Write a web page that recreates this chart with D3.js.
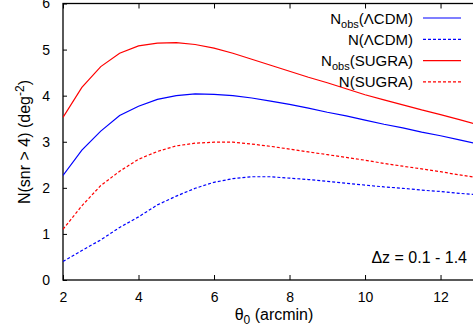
<!DOCTYPE html>
<html>
<head>
<meta charset="utf-8">
<script src="https://cdn.jsdelivr.net/npm/d3@7"></script>
<style>
  html, body { margin: 0; padding: 0; background: #fff; }
  svg { display: block; font-family: "Liberation Sans", Arial, sans-serif; }
</style>
</head>
<body>
<div id="chart"></div>
<script>
// theta_0 samples (arcmin)
const theta = [2, 2.5, 3, 3.5, 4, 4.5, 5, 5.5, 6, 6.5, 7, 7.5, 8, 8.5, 9, 9.5, 10, 10.5, 11, 11.5, 12, 12.5, 13];

const nObsLcdm = [2.27, 2.82, 3.23, 3.57, 3.77, 3.92, 4.00, 4.04, 4.03, 4.00, 3.95, 3.88, 3.81, 3.73, 3.64, 3.56, 3.47, 3.38, 3.30, 3.21, 3.13, 3.04, 2.95];
const nLcdm    = [0.40, 0.64, 0.87, 1.14, 1.37, 1.63, 1.82, 1.99, 2.12, 2.20, 2.24, 2.24, 2.21, 2.18, 2.14, 2.10, 2.06, 2.02, 1.99, 1.95, 1.92, 1.88, 1.85];
const nObsSugra = [3.53, 4.18, 4.63, 4.92, 5.08, 5.14, 5.15, 5.11, 5.03, 4.92, 4.79, 4.66, 4.53, 4.40, 4.28, 4.15, 4.02, 3.91, 3.80, 3.69, 3.59, 3.48, 3.37];
const nSugra   = [1.10, 1.61, 2.05, 2.36, 2.62, 2.79, 2.91, 2.97, 2.99, 2.99, 2.95, 2.90, 2.84, 2.78, 2.72, 2.66, 2.60, 2.53, 2.47, 2.41, 2.35, 2.28, 2.22];

const xTicks = [2, 4, 6, 8, 10, 12];
const yTicks = [0, 1, 2, 3, 4, 5, 6];

const series = [
  { name: 'obs', label: 'ΛCDM', values: nObsLcdm, color: '#0000ff', dash: null },
  { name: '', label: 'ΛCDM', values: nLcdm, color: '#0000ff', dash: '3,2' },
  { name: 'obs', label: 'SUGRA', values: nObsSugra, color: '#ff0000', dash: null },
  { name: '', label: 'SUGRA', values: nSugra, color: '#ff0000', dash: '3,2' }
];

const W = 473, H = 332;
const margin = { top: 3.5, left: 63, bottom: 52 };
const plotRight = 478.3;

const svg = d3.select('#chart').append('svg')
  .attr('width', W)
  .attr('height', H);

const x = d3.scaleLinear().domain([2, 13]).range([margin.left, plotRight]);
const y = d3.scaleLinear().domain([0, 6]).range([H - margin.bottom, margin.top]);

// frame
svg.append('rect')
  .attr('x', x(2)).attr('y', y(6))
  .attr('width', x(13) - x(2)).attr('height', y(0) - y(6))
  .attr('fill', 'none').attr('stroke', '#000').attr('stroke-width', 1.3);

// axes with inward ticks
const gBottom = svg.append('g')
  .attr('transform', `translate(0,${y(0)})`)
  .call(d3.axisBottom(x).tickValues(xTicks).tickSizeInner(-5).tickSizeOuter(0)
    .tickPadding(12).tickFormat(d3.format('d')));
const gTop = svg.append('g')
  .attr('transform', `translate(0,${y(6)})`)
  .call(d3.axisTop(x).tickValues(xTicks).tickSizeInner(-5).tickSizeOuter(0).tickFormat(''));
const gLeft = svg.append('g')
  .attr('transform', `translate(${x(2)},0)`)
  .call(d3.axisLeft(y).tickValues(yTicks).tickSizeInner(-4).tickSizeOuter(0)
    .tickPadding(13).tickFormat(d3.format('d')));

[gBottom, gTop, gLeft].forEach(g => {
  g.select('.domain').remove();
  g.selectAll('line').attr('stroke', '#000').attr('stroke-width', 1);
  g.selectAll('text').attr('fill', '#000').style('font-size', '14px')
    .style('font-family', '"Liberation Sans", Arial, sans-serif');
});

// curves
const line = d3.line()
  .x((d, i) => x(theta[i]))
  .y(d => y(d));

svg.append('defs').append('clipPath').attr('id', 'clip')
  .append('rect')
  .attr('x', x(2)).attr('y', y(6))
  .attr('width', x(13) - x(2)).attr('height', y(0) - y(6));

series.forEach(s => {
  svg.append('path')
    .datum(s.values)
    .attr('clip-path', 'url(#clip)')
    .attr('fill', 'none')
    .attr('stroke', s.color)
    .attr('stroke-width', 1.2)
    .attr('stroke-dasharray', s.dash)
    .attr('d', line);
});

// legend
const legend = svg.append('g');
series.forEach((s, i) => {
  const ly = 18 + i * 21.3;
  const t = legend.append('text')
    .attr('x', 413).attr('y', ly + 5.5)
    .attr('text-anchor', 'end')
    .style('font-size', '15px');
  t.append('tspan').text('N');
  if (s.name) {
    t.append('tspan').attr('dy', 4).style('font-size', '11px').text(s.name);
    t.append('tspan').attr('dy', -4).text(`(${s.label})`);
  } else {
    t.append('tspan').text(`(${s.label})`);
  }
  legend.append('line')
    .attr('x1', 423).attr('x2', 461)
    .attr('y1', ly).attr('y2', ly)
    .attr('stroke', s.color)
    .attr('stroke-width', 1.2)
    .attr('stroke-dasharray', s.dash);
});

// redshift range note
svg.append('text')
  .attr('x', 467).attr('y', 263)
  .attr('text-anchor', 'end')
  .style('font-size', '16px')
  .text('Δz = 0.1 - 1.4');

// axis titles
const xt = svg.append('text')
  .attr('x', 274).attr('y', 320)
  .attr('text-anchor', 'middle')
  .style('font-size', '16px');
xt.append('tspan').text('θ');
xt.append('tspan').attr('dy', 4).style('font-size', '12px').text('0');
xt.append('tspan').attr('dy', -4).text(' (arcmin)');

const yt = svg.append('text')
  .attr('transform', 'translate(30,142) rotate(-90)')
  .attr('text-anchor', 'middle')
  .style('font-size', '16px');
yt.append('tspan').text('N(snr > 4) (deg');
yt.append('tspan').attr('dy', -6).style('font-size', '12px').text('-2');
yt.append('tspan').attr('dy', 6).text(')');
</script>
</body>
</html>
